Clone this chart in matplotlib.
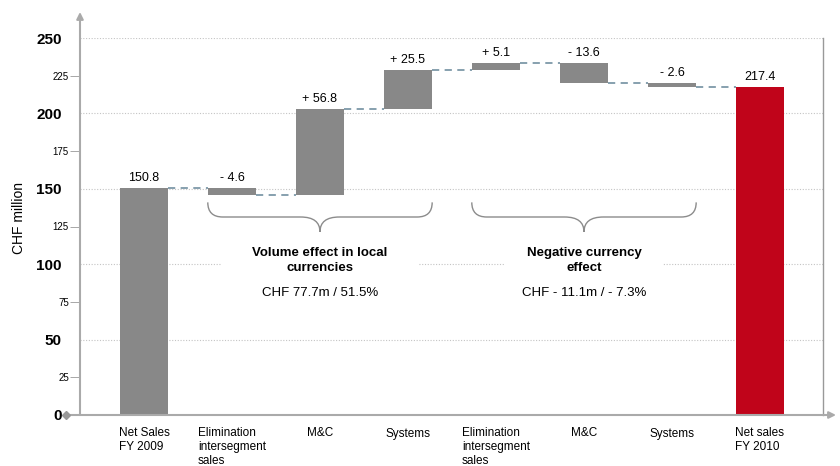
import numpy as np
import matplotlib
matplotlib.use("Agg")
import matplotlib.pyplot as plt
from matplotlib.path import Path
from matplotlib.patches import PathPatch, Rectangle

plt.rcParams['font.family'] = ['Liberation Sans', 'DejaVu Sans']

# Net sales bridge FY 2009 -> FY 2010 (CHF million)
categories = ["Net Sales\nFY 2009", "Elimination\nintersegment\nsales", "M&C", "Systems",
              "Elimination\nintersegment\nsales", "M&C", "Systems", "Net sales\nFY 2010"]
net_sales_2009 = 150.8
net_sales_2010 = 217.4
changes = [-4.6, 56.8, 25.5, 5.1, -13.6, -2.6]

group_titles = ["Volume effect in local\ncurrencies", "Negative currency\neffect"]
group_totals = ["CHF 77.7m / 51.5%", "CHF - 11.1m / - 7.3%"]
group_spans = [(1, 3), (4, 6)]

GREY = '#888888'
RED = '#c0041a'
LINK = '#7d98a8'
AXIS = '#aaaaaa'

# running totals for the floating bars
levels = net_sales_2009 + np.cumsum(changes)
starts = np.concatenate([[net_sales_2009], levels[:-1]])
bottoms = np.concatenate([[0], np.minimum(starts, levels), [0]])
tops = np.concatenate([[net_sales_2009], np.maximum(starts, levels), [net_sales_2010]])
ends = np.concatenate([[net_sales_2009], levels])
colors = [GREY] * (len(categories) - 1) + [RED]
labels = [f"{net_sales_2009:.1f}"] + \
         [("+ " if c > 0 else "- ") + f"{abs(c):.1f}" for c in changes] + \
         [f"{net_sales_2010:.1f}"]

x = np.arange(len(categories))
w = 0.55

fig = plt.figure(figsize=(8.4, 4.66), dpi=100)
ax = fig.add_axes([80 / 840, 51 / 466, 743 / 840, 377 / 466])

ax.bar(x, tops - bottoms, bottom=bottoms, width=w, color=colors, zorder=3)

# dashed connectors between consecutive bars
for i in range(len(categories) - 1):
    ax.plot([x[i] + w / 2, x[i + 1] - w / 2], [ends[i], ends[i]], color=LINK,
            lw=1.3, dashes=(4, 3), zorder=2)

for xi, top, lab in zip(x, tops, labels):
    ax.annotate(lab, (xi, top), xytext=(0, 5), textcoords='offset points',
                ha='center', va='baseline', fontsize=9, zorder=4)

# curly braces + group annotations
def brace(ax, x0, x1, ytop, ymid, ytip, dx, dtip):
    xc = (x0 + x1) / 2
    verts = [(x0, ytop), (x0, ymid), (x0 + dx, ymid), (xc - dtip, ymid),
             (xc, ymid), (xc, ytip),
             (xc, ymid), (xc + dtip, ymid), (x1 - dx, ymid),
             (x1, ymid), (x1, ytop)]
    codes = [Path.MOVETO, Path.CURVE3, Path.CURVE3, Path.LINETO,
             Path.CURVE3, Path.CURVE3,
             Path.CURVE3, Path.CURVE3, Path.LINETO,
             Path.CURVE3, Path.CURVE3]
    ax.add_patch(PathPatch(Path(verts, codes), fill=False, ec='#8c8c8c', lw=1, zorder=3))

gap_halfwidth = [1.11, 0.9]
for (a, b), title, total, hw in zip(group_spans, group_titles, group_totals, gap_halfwidth):
    x0, x1 = x[a] - w / 2, x[b] + w / 2
    xc = (x0 + x1) / 2
    brace(ax, x0, x1, 141, 131.3, 121.4, 0.17, 0.22)
    ax.add_patch(Rectangle((xc - hw, 94), 2 * hw, 14, fc='white', ec='none', zorder=1))
    ax.text(xc, 102.5, title, ha='center', va='center', fontsize=9.5,
            fontweight='bold', linespacing=1.3, zorder=4)
    ax.text(xc, 81, total, ha='center', va='center', fontsize=9.5, zorder=4)

# axes styling
ax.set_xlim(-0.727, 7.716)
ax.set_ylim(0, 250)
ax.set_axisbelow(True)
ax.yaxis.grid(True, which='major', linestyle=(0, (1, 1.5)), color='#c4c4c4', lw=0.8)

ax.set_yticks(np.arange(0, 251, 50))
ax.set_yticks(np.arange(25, 250, 50), minor=True)
ax.tick_params(axis='y', which='major', length=0, pad=13, labelsize=11)
ax.tick_params(axis='y', which='minor', length=7, pad=1, labelsize=7,
               color='#999999')
ax.yaxis.set_minor_formatter(matplotlib.ticker.FormatStrFormatter('%d'))
for t in ax.get_yticklabels():
    t.set_fontweight('bold')

ax.set_xticks(x)
ax.set_xticklabels(categories, fontsize=8.5, multialignment='left', linespacing=1.2)
ax.tick_params(axis='x', length=0, pad=9)

ax.set_ylabel('CHF million', fontsize=10)
ax.yaxis.set_label_coords(-0.073, 0.523)

for s in ['left', 'bottom', 'top']:
    ax.spines[s].set_visible(False)
ax.spines['right'].set_color('#999999')
ax.spines['right'].set_linewidth(1)

arrow = dict(arrowstyle='-|>', color=AXIS, lw=1.5, mutation_scale=10,
             shrinkA=0, shrinkB=0)
ax.annotate('', xy=(0, 1.069), xytext=(0, 0), xycoords='axes fraction',
            arrowprops=arrow, annotation_clip=False)
ax.annotate('', xy=(1.0175, 0), xytext=(-0.019, 0), xycoords='axes fraction',
            arrowprops=arrow, annotation_clip=False)
ax.plot(-0.019, 0, marker='D', ms=4, color='#999999', transform=ax.transAxes,
        clip_on=False, zorder=5)

fig.savefig('out.png', dpi=100)
